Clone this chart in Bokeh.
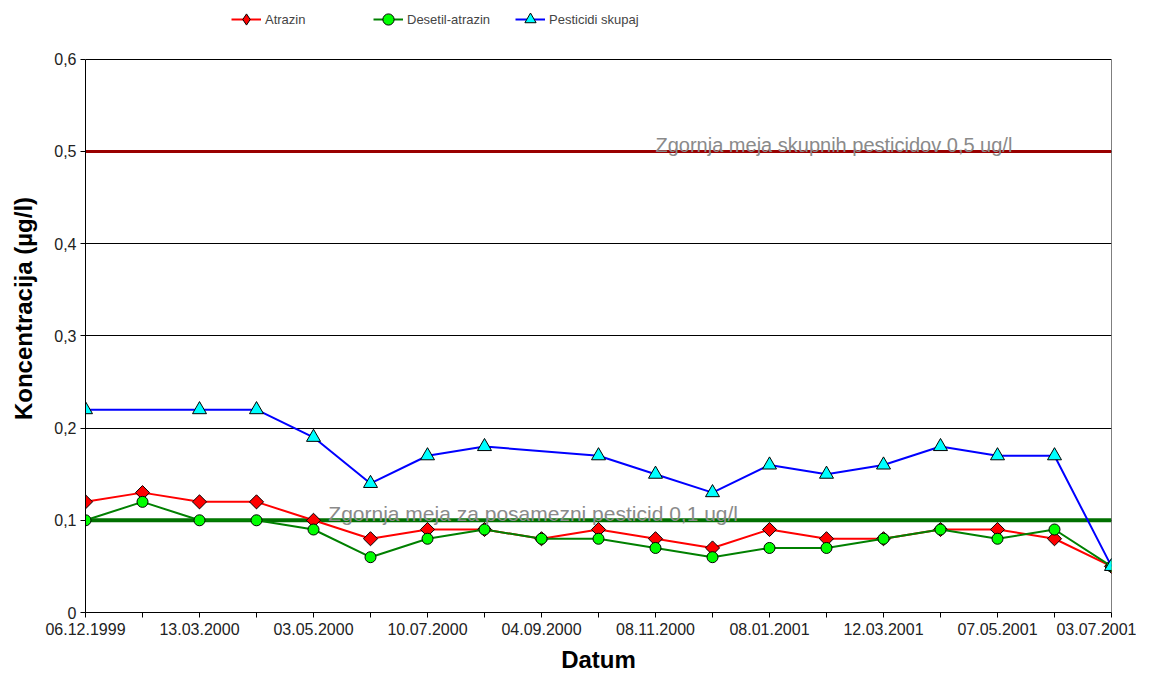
import math
from bokeh.plotting import figure
from bokeh.models import (Span, Label, Legend, LegendItem, FixedTicker,
                          CustomJSTickFormatter, Range1d)
from bokeh.embed import file_html
from bokeh.resources import INLINE

nan = float("nan")

# sample index (evenly spaced categories on the axis)
sample_idx = list(range(19))
# date labels shown under every second sample
tick_labels = ["06.12.1999", "13.03.2000", "03.05.2000", "10.07.2000", "04.09.2000",
               "08.11.2000", "08.01.2001", "12.03.2001", "07.05.2001", "03.07.2001"]
y_ticks = [0.0, 0.1, 0.2, 0.3, 0.4, 0.5, 0.6]

atrazin = [0.12, 0.13, 0.12, 0.12, 0.10, 0.08, 0.09, 0.09, 0.08, 0.09,
           0.08, 0.07, 0.09, 0.08, 0.08, 0.09, 0.09, 0.08, 0.05]
desetil = [0.10, 0.12, 0.10, 0.10, 0.09, 0.06, 0.08, 0.09, 0.08, 0.08,
           0.07, 0.06, 0.07, 0.07, 0.08, 0.09, 0.08, 0.09, 0.05]
skupaj = [0.22, nan, 0.22, 0.22, 0.19, 0.14, 0.17, 0.18, nan, 0.17,
          0.15, 0.13, 0.16, 0.15, 0.16, 0.18, 0.17, 0.17, 0.05]

limit_total = 0.5
limit_single = 0.1

FONT = "Liberation Sans"

# the frame extends above 0.6 to leave room for the legend (axis is bounded)
p = figure(width=1136, height=675, output_backend="svg", toolbar_location=None,
           x_range=Range1d(0, 18), y_range=Range1d(0, 0.6594),
           min_border_left=85, min_border_right=25, min_border_top=4,
           min_border_bottom=60)
p.background_fill_color = "white"
p.border_fill_color = "white"
p.outline_line_color = None

# grid
p.xgrid.visible = False
p.ygrid.grid_line_color = "black"
p.ygrid.grid_line_width = 1
p.ygrid.ticker = FixedTicker(ticks=y_ticks)

# axes
p.xaxis.ticker = FixedTicker(ticks=sample_idx)
overrides = {}
for i in sample_idx:
    overrides[i] = tick_labels[i // 2] if i % 2 == 0 else ""
p.xaxis.major_label_overrides = overrides
p.yaxis.ticker = FixedTicker(ticks=y_ticks)
p.yaxis.bounds = (0, 0.6)
p.yaxis.formatter = CustomJSTickFormatter(
    code="return tick == 0 ? '0' : tick.toFixed(1).replace('.', ',');")

for ax in (p.xaxis[0], p.yaxis[0]):
    ax.axis_line_color = "black"
    ax.major_tick_line_color = "black"
    ax.major_tick_in = 0
    ax.major_tick_out = 5
    ax.minor_tick_line_color = None
    ax.major_label_text_font = FONT
    ax.major_label_text_font_size = "16px"
    ax.major_label_text_color = "#222222"
    ax.axis_label_text_font = FONT
    ax.axis_label_text_font_size = "24px"
    ax.axis_label_text_font_style = "bold"
    ax.axis_label_text_color = "black"

p.xaxis.axis_label = "Datum"
p.yaxis.axis_label = "Koncentracija (µg/l)"
p.xaxis.major_label_standoff = 5
p.xaxis.axis_label_standoff = 8
p.yaxis.major_label_standoff = 4
p.yaxis.axis_label_standoff = 14

# right border of the plot area
p.segment(x0=[18], y0=[0], x1=[18], y1=[0.6], line_color="black", line_width=1)

# limit lines
p.add_layout(Span(location=limit_total, dimension="width", line_color="#990000",
                  line_width=3, level="underlay"))
p.add_layout(Span(location=limit_single, dimension="width", line_color="#007000",
                  line_width=4, level="underlay"))

p.add_layout(Label(x=10.0, y=0.507, text="Zgornja meja skupnih pesticidov 0,5 ug/l",
                   text_font=FONT, text_font_size="20px", text_color="#8a8a8a",
                   text_baseline="alphabetic"))
p.add_layout(Label(x=4.26, y=0.107, text="Zgornja meja za posamezni pesticid 0,1 ug/l",
                   text_font=FONT, text_font_size="21px", text_color="#8a8a8a",
                   text_baseline="alphabetic"))


def valid(xs, ys):
    pts = [(x, y) for x, y in zip(xs, ys) if not math.isnan(y)]
    return [a for a, _ in pts], [b for _, b in pts]


items = []
# Atrazin
xa, ya = valid(sample_idx, atrazin)
l1 = p.line(xa, ya, line_color="#ff0000", line_width=2)
# diamond used for the legend swatch (legend glyphs ignore marker angle);
# it sits hidden beneath the rotated squares drawn next
m1_leg = p.scatter(xa, ya, marker="diamond", size=11,
                   fill_color="#ff0000", line_color="black", line_width=1)
m1 = p.scatter(xa, ya, marker="square", angle=math.pi / 4, size=10,
               fill_color="#ff0000", line_color="black", line_width=1)
items.append(LegendItem(label="Atrazin", renderers=[l1, m1_leg]))
# Desetil-atrazin
xd, yd = valid(sample_idx, desetil)
l2 = p.line(xd, yd, line_color="#008000", line_width=2)
m2 = p.scatter(xd, yd, marker="circle", size=11,
               fill_color="#00ff00", line_color="black", line_width=1)
items.append(LegendItem(label="Desetil-atrazin", renderers=[l2, m2]))
# Pesticidi skupaj
xs, ys = valid(sample_idx, skupaj)
l3 = p.line(xs, ys, line_color="#0000ff", line_width=2)
m3 = p.scatter(xs, ys, marker="triangle", size=14,
               fill_color="#00ffff", line_color="black", line_width=1)
items.append(LegendItem(label="Pesticidi skupaj", renderers=[l3, m3]))

legend = Legend(items=items, orientation="horizontal", location=(144, 577))
legend.border_line_alpha = 0
legend.background_fill_alpha = 0
legend.label_text_font = FONT
legend.label_text_font_size = "13px"
legend.glyph_width = 30
legend.glyph_height = 28
legend.label_height = 16
legend.label_standoff = 4
legend.label_width = 108
legend.spacing = 0
legend.padding = 2
legend.margin = 0
p.add_layout(legend)

open("out.html", "w").write(file_html(p, INLINE))
